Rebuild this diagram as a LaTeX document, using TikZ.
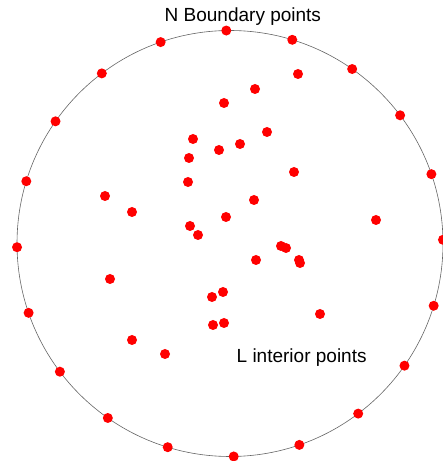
\documentclass[tikz,border=0pt]{standalone}
\usepackage{fontspec}
\setmainfont{Liberation Sans}
\usepackage{xcolor}
\definecolor{ptred}{RGB}{255,0,0}
\usepackage{tikz}

\begin{document}
\begin{tikzpicture}[x=1pt, y=1pt]
  \useasboundingbox (0,0) rectangle (443,461);
  \coordinate (ctr) at (230,217.5);
  \draw[gray!80!black, line width=0.6pt] (ctr) circle (213);
  % boundary points
  \foreach \i in {0,...,19}
    \fill[ptred, shift={(ctr)}] (18*\i+1:213) circle (5);
  % interior points
  \foreach \p in {(298,387),(255,372),(224,358),(267,329),(193,322),(240,317),
                  (219,311),(189,303),(294,289),(188,279),(105,265),(132,249),
                  (254,261),(226,244),(190,235),(198,226),(376,241),(281,215),
                  (286,213),(256,201),(299,201),(300,198),(110,182),(212,164),
                  (223,169),(320,147),(213,136),(224,138),(132,121),(165,107)}
    \fill[ptred] \p circle (5);
  \node[anchor=base west, inner sep=0pt, font=\fontsize{19}{22}\selectfont] (bnd) at (164.5,439) {N Boundary points};
  \node[anchor=base west, inner sep=0pt, font=\fontsize{19}{22}\selectfont] (intr) at (236.5,98) {L interior points};
\end{tikzpicture}
\end{document}
